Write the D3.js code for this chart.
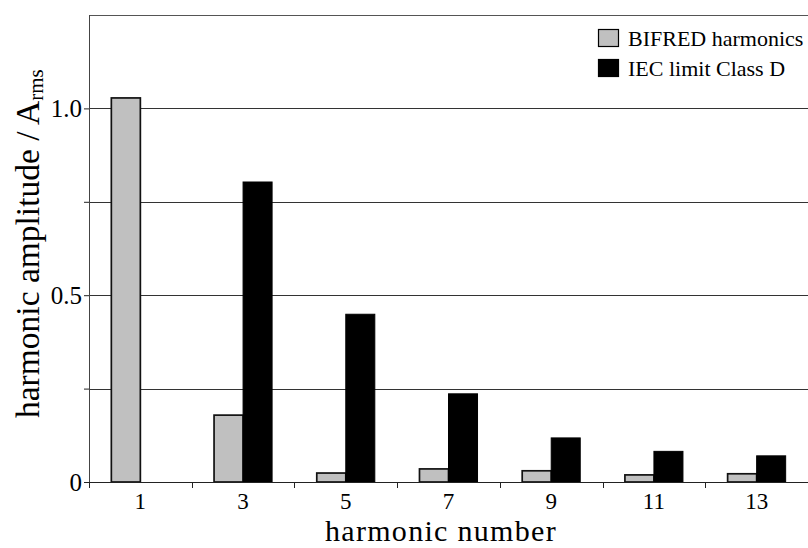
<!DOCTYPE html>
<html>
<head>
<meta charset="utf-8">
<script src="https://cdn.jsdelivr.net/npm/d3@7/dist/d3.min.js"></script>
<style>
  html, body { margin: 0; padding: 0; background: #fff; }
  svg { display: block; }
</style>
</head>
<body>
<svg id="chart" width="808" height="548"></svg>
<script>
// Harmonic content of the BIFRED converter input current vs. IEC 61000-3-2 Class D limits
const harmonics = ["1", "3", "5", "7", "9", "11", "13"];
const bifredAmps = [1.028, 0.179, 0.024, 0.035, 0.030, 0.019, 0.022];
const iecLimitAmps = [null, 0.803, 0.449, 0.236, 0.118, 0.082, 0.070];
const seriesNames = ["BIFRED harmonics", "IEC limit Class D"];
const seriesFills = ["#c0c0c0", "#000000"];
const yTicksMajor = [0, 0.5, 1.0];
const yTickLabels = ["0", "0.5", "1.0"];
const yTicksAll = [0, 0.25, 0.5, 0.75, 1.0];

const SERIF = "'Liberation Serif', 'Times New Roman', Tinos, Times, 'DejaVu Serif', serif";

const svg = d3.select("#chart");
const margin = { left: 89, right: 0, top: 15, bottom: 66 };
const W = 808, H = 548;
const plotW = W - margin.left - margin.right;
const plotH = H - margin.top - margin.bottom;

const g = svg.append("g").attr("transform", `translate(${margin.left},${margin.top})`);

const x = d3.scaleBand().domain(harmonics).range([0, plotW]).paddingInner(0).paddingOuter(0);
const y = d3.scaleLinear().domain([0, 1.25]).range([plotH, 0]);

// inner grouping: two bars per harmonic
const groupFrac = 0.565;
const xInner = d3.scaleBand().domain([0, 1])
  .range([x.bandwidth() * (1 - groupFrac) / 2, x.bandwidth() * (1 + groupFrac) / 2]);

// horizontal grid lines
g.append("g").selectAll("line")
  .data(yTicksAll.filter(d => d > 0))
  .join("line")
  .attr("x1", 0).attr("x2", plotW)
  .attr("y1", d => Math.round(y(d)) + 0.5).attr("y2", d => Math.round(y(d)) + 0.5)
  .attr("stroke", "#333").attr("stroke-width", 1);

// top frame line
g.append("line").attr("x1", 0).attr("x2", plotW).attr("y1", 0.5).attr("y2", 0.5)
  .attr("stroke", "#555").attr("stroke-width", 1);

// bars
const rows = harmonics.map((h, i) => ({ h, vals: [bifredAmps[i], iecLimitAmps[i]] }));
const groups = g.append("g").selectAll("g")
  .data(rows).join("g")
  .attr("transform", d => `translate(${x(d.h)},0)`);

groups.selectAll("rect")
  .data(d => d.vals.map((v, k) => ({ v, k })).filter(e => e.v != null))
  .join("rect")
  .attr("x", e => xInner(e.k))
  .attr("width", xInner.bandwidth())
  .attr("y", e => y(e.v))
  .attr("height", e => y(0) - y(e.v))
  .attr("fill", e => seriesFills[e.k])
  .attr("stroke", e => e.k === 0 ? "#111" : "#000")
  .attr("stroke-width", e => e.k === 0 ? 1.7 : 1);

// y axis
const yAxis = d3.axisLeft(y).tickValues(yTicksAll).tickSize(5).tickPadding(2)
  .tickFormat(d => { const i = yTicksMajor.indexOf(d); return i >= 0 ? yTickLabels[i] : ""; });
const ya = g.append("g").call(yAxis);
ya.select(".domain").attr("d", `M0.5,${plotH}V0`).attr("stroke", "#444");
ya.selectAll(".tick line").attr("stroke", "#222");
ya.selectAll("text").style("font-family", SERIF).style("font-size", "25px").attr("fill", "#000");

// x axis: ticks on the band boundaries, labels at band centres
const xa = g.append("g").attr("transform", `translate(0,${plotH})`);
xa.append("line").attr("x1", 0).attr("x2", plotW).attr("y1", 0.5).attr("y2", 0.5).attr("stroke", "#222");
xa.selectAll("line.tk")
  .data(harmonics.map(h => x(h)).concat([plotW]))
  .join("line").attr("class", "tk")
  .attr("x1", d => Math.round(d) + 0.5).attr("x2", d => Math.round(d) + 0.5)
  .attr("y1", 0).attr("y2", 6).attr("stroke", "#222");
xa.selectAll("text")
  .data(harmonics).join("text")
  .attr("x", d => x(d) + x.bandwidth() / 2)
  .attr("y", 27)
  .attr("text-anchor", "middle")
  .style("font-family", SERIF).style("font-size", "23px")
  .text(d => d);

// axis titles
svg.append("text")
  .attr("x", 325).attr("y", 541)
  .attr("text-anchor", "start")
  .style("font-family", SERIF).style("font-size", "30px").style("letter-spacing", "1.3px")
  .text("harmonic number");

const yt = svg.append("text")
  .attr("transform", "translate(38.5,418) rotate(-90)")
  .attr("text-anchor", "start")
  .style("font-family", SERIF).style("font-size", "33.5px");
yt.append("tspan").text("harmonic amplitude / A");
yt.append("tspan").style("font-size", "21px").attr("dy", 4).text("rms");

// legend
const legend = svg.append("g").attr("transform", "translate(598,29)");
seriesNames.forEach((name, i) => {
  const row = legend.append("g").attr("transform", `translate(0,${i * 30})`);
  row.append("rect").attr("x", 0.5).attr("y", 0.5).attr("width", 20).attr("height", 17)
    .attr("fill", seriesFills[i]).attr("stroke", "#000").attr("stroke-width", 1.2);
  row.append("text").attr("x", 30).attr("y", 17)
    .style("font-family", SERIF).style("font-size", "22px").text(name);
});
</script>
</body>
</html>
